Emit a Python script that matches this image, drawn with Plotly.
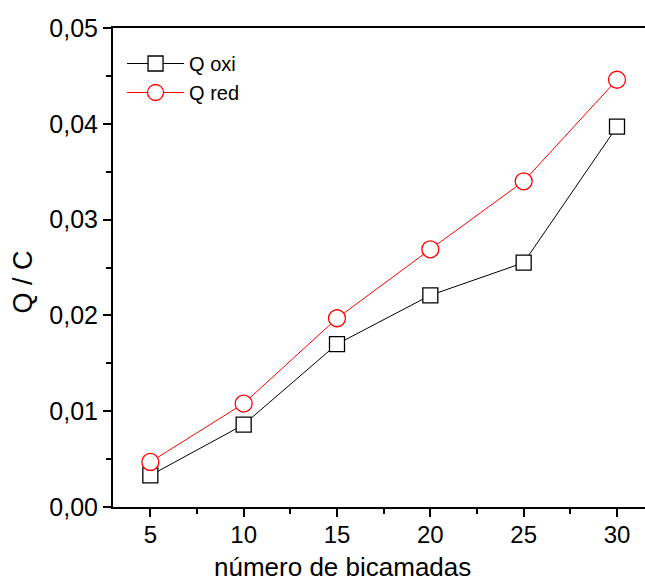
import plotly.graph_objects as go

# Number of bilayers and measured charge (C)
bicamadas = [5, 10, 15, 20, 25, 30]
q_oxi = [0.0033, 0.0086, 0.0170, 0.0221, 0.0255, 0.0397]
q_red = [0.0047, 0.0108, 0.0197, 0.0269, 0.0340, 0.0446]

x_title = "número de bicamadas"
y_title = "Q / C"

FONT = "Liberation Sans, Arial, sans-serif"

fig = go.Figure()
fig.add_trace(go.Scatter(
    x=bicamadas, y=q_oxi, name="Q oxi", mode="lines+markers",
    line=dict(color="black", width=1),
    marker=dict(symbol="square", size=15, color="white",
                line=dict(color="black", width=1.3)),
))
fig.add_trace(go.Scatter(
    x=bicamadas, y=q_red, name="Q red", mode="lines+markers",
    line=dict(color="red", width=1),
    marker=dict(symbol="circle", size=17, color="white",
                line=dict(color="red", width=1.3)),
))

axis_common = dict(
    showline=True, linecolor="black", linewidth=2,
    ticks="outside", ticklen=8, tickwidth=1.5, tickcolor="black",
    showgrid=False, zeroline=False,
)

fig.update_xaxes(
    **axis_common,
    tickfont=dict(family=FONT, size=24, color="black"),
    ticklabelstandoff=-3,
    range=[3, 31.5], tick0=5, dtick=5, mirror=True,
    minor=dict(ticks="outside", ticklen=5, tickwidth=1.5, tickcolor="black",
               tick0=5, dtick=2.5),
)
fig.update_yaxes(
    **axis_common,
    tickfont=dict(family=FONT, size=25, color="black"),
    range=[0, 0.05], tick0=0, dtick=0.01, tickformat=".2f",
    minor=dict(ticks="outside", ticklen=5, tickwidth=1.5, tickcolor="black",
               tick0=0, dtick=0.005),
)

# Axis titles placed as paper-anchored text
fig.add_annotation(text=x_title, xref="paper", yref="paper",
                   x=0.4314, y=-0.126, xanchor="center", yanchor="middle",
                   showarrow=False,
                   font=dict(family=FONT, size=26, color="black"))
fig.add_annotation(text=y_title, xref="paper", yref="paper",
                   x=-0.170, y=0.47, xanchor="center", yanchor="middle",
                   textangle=-90, showarrow=False,
                   font=dict(family=FONT, size=27, color="black"))

fig.update_layout(
    width=645, height=581,
    margin=dict(l=113, r=0, t=28, b=74),
    paper_bgcolor="white", plot_bgcolor="white",
    separators=",.",
    showlegend=True,
    legend=dict(x=0.017, y=0.9666, xanchor="left", yanchor="top",
                bgcolor="rgba(0,0,0,0)",
                font=dict(family=FONT, size=20, color="black"),
                itemwidth=57, tracegroupgap=0),
)

fig.write_html("out.html")
